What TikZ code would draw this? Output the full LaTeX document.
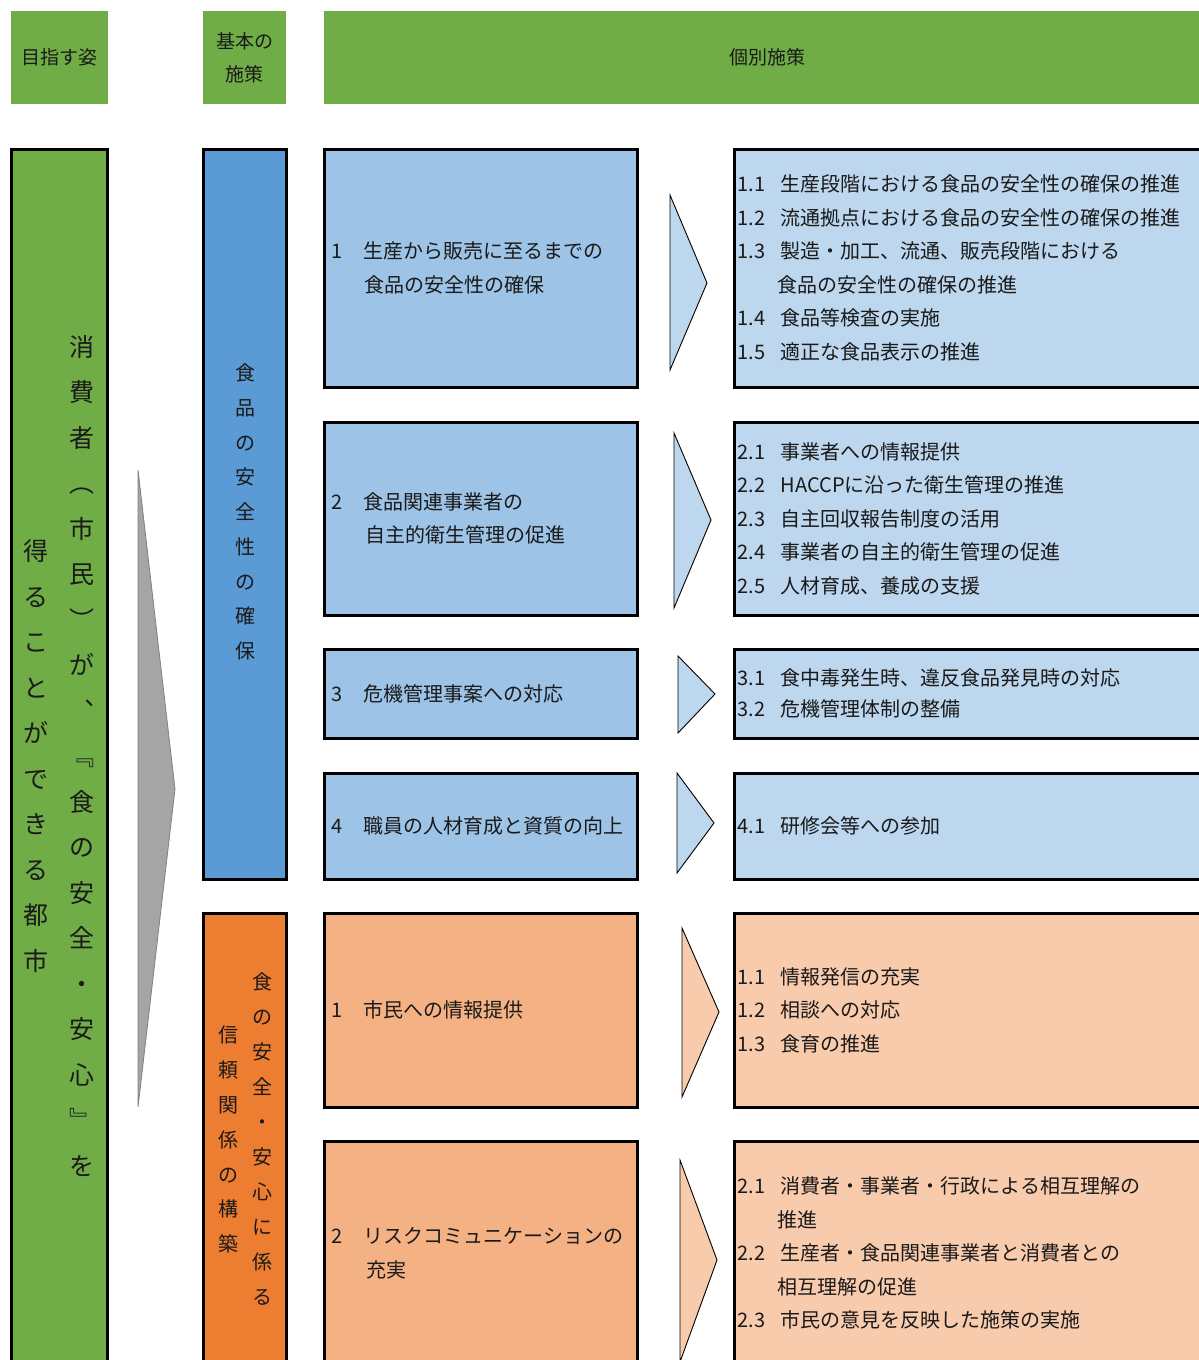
\documentclass[tikz,border=0pt]{standalone}
\usepackage{fontspec}
\setmainfont{Noto Sans CJK JP}
\usetikzlibrary{positioning}

\definecolor{hdgreen}{HTML}{70AD47}
\definecolor{bluedark}{HTML}{5B9BD5}
\definecolor{bluemid}{HTML}{9DC3E6}
\definecolor{bluelight}{HTML}{BDD7EE}
\definecolor{orgdark}{HTML}{ED7D31}
\definecolor{orgmid}{HTML}{F4B183}
\definecolor{orglight}{HTML}{F8CBAD}
\definecolor{arrowgray}{HTML}{A5A5A5}
\definecolor{txt}{HTML}{1A1A1A}

\newcommand{\midno}[1]{\makebox[32pt][l]{#1}}
\newcommand{\subno}[1]{\makebox[43pt][l]{#1}}

\tikzset{
  head/.style={fill=hdgreen, minimum height=93pt, inner sep=0pt, align=center,
    text=txt, font=\fontsize{19}{33}\selectfont},
  bar/.style={draw=black, line width=3pt, inner sep=0pt, minimum width=#1},
  box/.style={draw=black, line width=3pt, inner sep=0pt},
  lbl/.style={inner sep=0pt, align=left, anchor=west, text=txt,
    font=\fontsize{20}{33.5}\selectfont},
  vlbl/.style={inner sep=0pt, align=center, text=txt},
  chevron/.style={draw=black, line width=0.9pt, line join=miter},
}

\begin{document}
\begin{tikzpicture}[x=1pt, y=-1pt]

    \useasboundingbox (0,0) rectangle (1199,1360);
    \clip (0,0) rectangle (1199,1360);

    % headings
    \node[head, minimum width=97pt] (hd1) at (59.5,57.5) {目指す姿};
    \node[head, minimum width=83pt] (hd2) at (244.5,57.5) {基本の\\施策};
    \node[head, minimum width=886pt] (hd3) at (767,57.5) {個別施策};

    % goal
    \node[bar=96pt, fill=hdgreen, minimum height=1214pt] (goal) at (59,756) {};
    \node[vlbl, font=\fontsize{25}{45.5}\selectfont] (goalr) at (82,756)
        {消\\費\\者\\︵\\市\\民\\︶\\が\\︑\\﹃\\食\\の\\安\\全\\・\\安\\心\\﹄\\を};
    \node[vlbl, font=\fontsize{25}{45.5}\selectfont] (goall) at (36,756)
        {得\\る\\こ\\と\\が\\で\\き\\る\\都\\市};

    \draw[draw=gray, line width=0.8pt, fill=arrowgray] (138,470) -- (175,789) -- (138,1107) -- cycle;

    % basic policies
    \node[bar=83pt, fill=bluedark, minimum height=730pt] (base1) at (244.5,514) {};
    \node[vlbl, font=\fontsize{20}{34.75}\selectfont] (base1t) at (245,512)
        {食\\品\\の\\安\\全\\性\\の\\確\\保};
    \node[bar=83pt, fill=orgdark, minimum height=452pt] (base2) at (244.5,1139) {};
    \node[vlbl, font=\fontsize{20}{34.9}\selectfont] (base2r) at (262,1139)
        {食\\の\\安\\全\\・\\安\\心\\に\\係\\る};
    \node[vlbl, font=\fontsize{20}{34.9}\selectfont] (base2l) at (228,1139.5)
        {信\\頼\\関\\係\\の\\構\\築};

    % measures
    \node[box, fill=bluemid, minimum width=313pt, minimum height=238pt] (m1) at (480.5,268) {};
    \node[box, fill=bluemid, minimum width=313pt, minimum height=193pt] (m2) at (480.5,518.5) {};
    \node[box, fill=bluemid, minimum width=313pt, minimum height=89pt] (m3) at (480.5,693.5) {};
    \node[box, fill=bluemid, minimum width=313pt, minimum height=106pt] (m4) at (480.5,826) {};
    \node[box, fill=orgmid, minimum width=313pt, minimum height=194pt] (m5) at (480.5,1010) {};
    \node[box, fill=orgmid, minimum width=313pt, minimum height=224pt] (m6) at (480.5,1253) {};

    \node[lbl] (m1t) at ([xshift=9pt]m1.west) {\midno{1}生産から販売に至るまでの\\\hspace*{33pt}食品の安全性の確保};
    \node[lbl] (m2t) at ([xshift=9pt]m2.west) {\midno{2}食品関連事業者の\\\hspace*{34pt}自主的衛生管理の促進};
    \node[lbl] (m3t) at ([xshift=9pt]m3.west) {\midno{3}危機管理事案への対応};
    \node[lbl] (m4t) at ([xshift=9pt]m4.west) {\midno{4}職員の人材育成と資質の向上};
    \node[lbl] (m5t) at ([xshift=9pt]m5.west) {\midno{1}市民への情報提供};
    \node[lbl] (m6t) at ([xshift=9pt]m6.west) {\midno{2}リスクコミュニケーションの\\\hspace*{35pt}充実};

    % individual measures
    \node[box, fill=bluelight, minimum width=476pt, minimum height=238pt] (s1) at (972,268) {};
    \node[box, fill=bluelight, minimum width=476pt, minimum height=193pt] (s2) at (972,518.5) {};
    \node[box, fill=bluelight, minimum width=476pt, minimum height=89pt] (s3) at (972,693.5) {};
    \node[box, fill=bluelight, minimum width=476pt, minimum height=106pt] (s4) at (972,826) {};
    \node[box, fill=orglight, minimum width=476pt, minimum height=194pt] (s5) at (972,1010) {};
    \node[box, fill=orglight, minimum width=476pt, minimum height=224pt] (s6) at (972,1253) {};

    \node[lbl] (s1t) at ([xshift=5pt]s1.west) {\subno{1.1}生産段階における食品の安全性の確保の推進\\
        \subno{1.2}流通拠点における食品の安全性の確保の推進\\
        \subno{1.3}製造・加工、流通、販売段階における\\
        \hspace*{40pt}食品の安全性の確保の推進\\
        \subno{1.4}食品等検査の実施\\
        \subno{1.5}適正な食品表示の推進};
    \node[lbl] (s2t) at ([xshift=5pt]s2.west) {\subno{2.1}事業者への情報提供\\
        \subno{2.2}HACCPに沿った衛生管理の推進\\
        \subno{2.3}自主回収報告制度の活用\\
        \subno{2.4}事業者の自主的衛生管理の促進\\
        \subno{2.5}人材育成、養成の支援};
    \node[lbl] (s3t) at ([xshift=5pt]s3.west) {\subno{3.1}食中毒発生時、違反食品発見時の対応\\[-2.5pt]
        \subno{3.2}危機管理体制の整備};
    \node[lbl] (s4t) at ([xshift=5pt]s4.west) {\subno{4.1}研修会等への参加};
    \node[lbl] (s5t) at ([xshift=5pt]s5.west) {\subno{1.1}情報発信の充実\\
        \subno{1.2}相談への対応\\
        \subno{1.3}食育の推進};
    \node[lbl] (s6t) at ([xshift=5pt]s6.west) {\subno{2.1}消費者・事業者・行政による相互理解の\\
        \hspace*{40pt}推進\\
        \subno{2.2}生産者・食品関連事業者と消費者との\\
        \hspace*{40pt}相互理解の促進\\
        \subno{2.3}市民の意見を反映した施策の実施};

    % chevrons between the columns
    \foreach \xa/\ya/\yb/\yc/\col in {670/195/283/370/bluelight, 674/433/520/608/bluelight,
        678/656/694/733/bluelight, 677/773/823/873/bluelight,
        682/928/1012/1097/orglight, 680/1160/1260/1362/orglight}
        \draw[chevron, fill=\col] (\xa,\ya) -- (\xa+37,\yb) -- (\xa,\yc) -- cycle;

\end{tikzpicture}
\end{document}
